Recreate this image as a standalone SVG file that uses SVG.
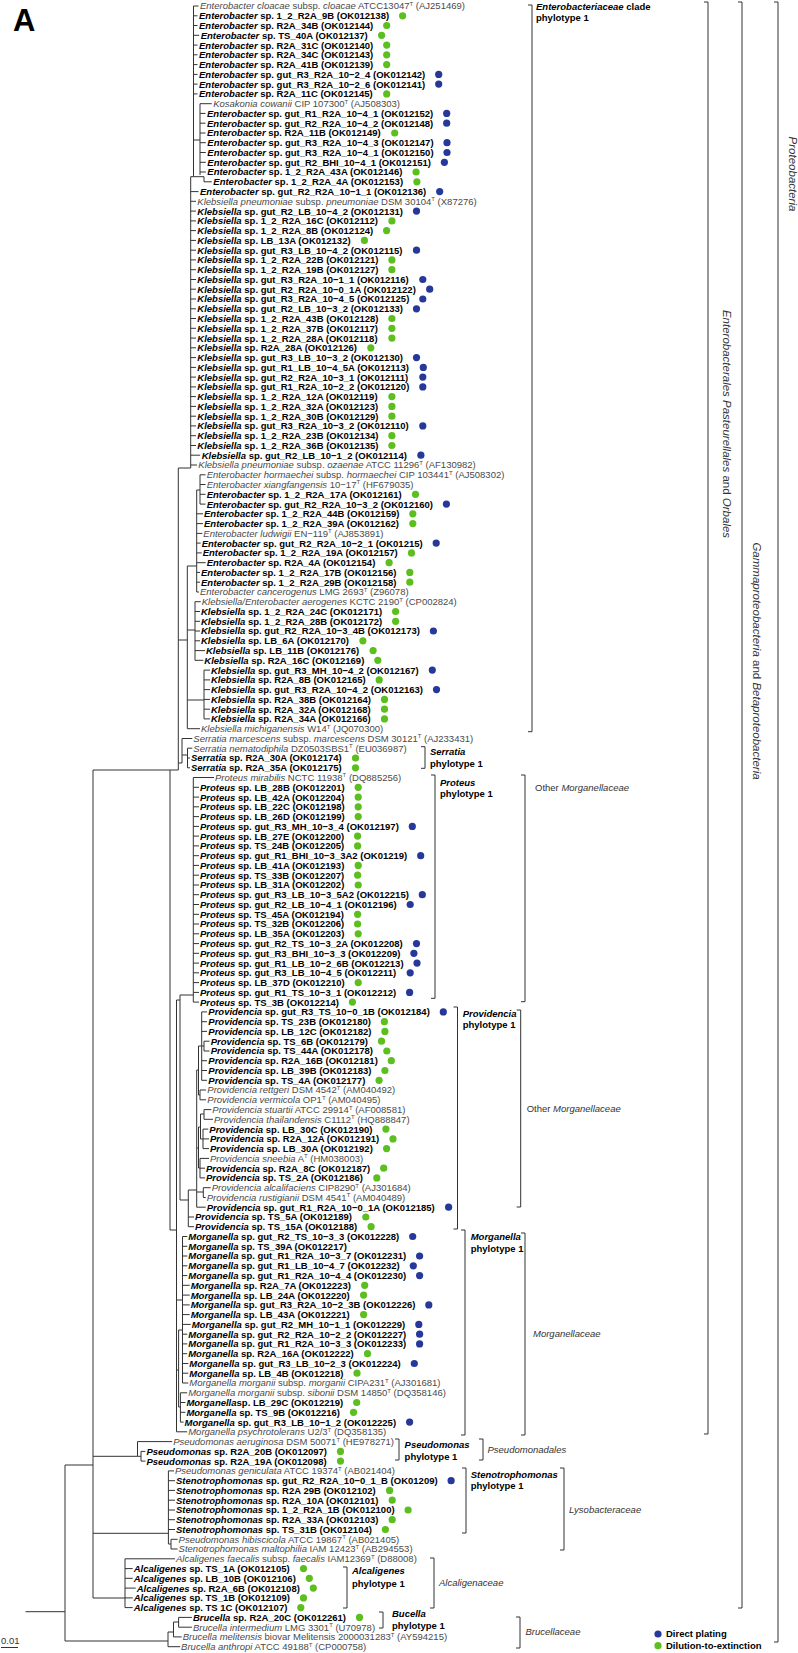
<svg xmlns="http://www.w3.org/2000/svg" width="798" height="1653" viewBox="0 0 798 1653">
<style>
text{font-family:"Liberation Sans",Arial,sans-serif;font-size:9.5px}
.b{font-weight:bold;fill:#000}
.r{fill:#4a4a4a}
.i{font-style:italic}
.s{font-size:6px}
.g{fill:#5cbf1f}
.u{fill:#26399a}
.t{fill:none;stroke:#333;stroke-width:1}
.k{fill:none;stroke:#333;stroke-width:1}
.f{fill:#333;font-style:italic}
.o{fill:#333}
.v{fill:#333;font-style:italic;font-size:11.5px}
</style>
<rect width="798" height="1653" fill="#fff"/>
<text x="13" y="31" style="font-size:31px;font-weight:bold">A</text>
<g id="tree" class="t">
<path d="M193.5,6V176.7M193.5,6H198.5M193.5,15.8H197.5M193.5,25.5H197.5M193.5,35.3H199.2M193.5,45.1H197.5M193.5,54.8H197.5M193.5,64.6H197.5M193.5,74.4H197.5M193.5,84.1H197.5M193.5,93.9H197.5M193.5,140H200M200,103.7V175M200,103.7H211.7M200,113.4H205.5M200,123.2H205.5M200,133H205.5M200,142.7H205.8M200,152.5H205.8M200,162.3H205.8M200,172H205.8M190.7,176.7H204V181.8H211.8"/>
<path d="M190.7,176.7V468M190.7,191.6H198.5M190.7,201.3H196M190.7,211.1H196M190.7,220.9H196M190.7,230.6H196M190.7,240.4H196M190.7,250.2H196M190.7,259.9H196M190.7,269.7H196M190.7,279.5H196M190.7,289.2H196M190.7,299H196M190.7,308.8H196M190.7,318.5H196M190.7,328.3H196M190.7,338.1H196M190.7,347.8H196M190.7,357.6H196M190.7,367.4H196M190.7,377.1H196M190.7,386.9H196M190.7,396.6H196M190.7,406.4H196M190.7,416.2H196M190.7,425.9H196M190.7,435.7H196M190.7,445.5H196M190.7,455.2H200.2M190.7,465H197M178.3,468H190.7"/>
<path d="M178.3,468V770M178.3,640H187.3M187.3,566V728.7M187.3,566H196.7M196.7,490V592M196.7,490H200M200,474.8V504.1M200,474.8H205.5M200,484.5H205.5M200,494.3H205.5M200,504.1H205.5M196.7,513.8H203M196.7,523.6H203M196.7,533.4H202.3M196.7,543.1H200.7M196.7,552.9H201.7M196.7,562.7H205.7M196.7,572.4H200M196.7,582.2H200M196.7,592H199M187.3,630H195M195,601.7V660.3M195,601.7H200.7M195,611.5H200M195,621.3H200M195,631H200M195,640.8H200M195,650.6H205M195,660.3H203.3M187.3,700H204M204,670.1V718.9M204,670.1H210M204,679.9H210M204,689.6H210M204,699.4H210M204,709.2H210M204,718.9H210M187.3,728.7H200"/>
<path d="M178.3,763H182M182,738.5V763M182,738.5H192.3M182,755H187.5M187.5,748.2V767.8M187.5,748.2H192.3M187.5,758H190M187.5,767.8H190"/>
<path d="M93,770H178.3M93,770V1598M170,770V1230M170,1230H176.5M176.5,1000V1431.8M176.5,1000H180M180,995V1200M180,995H193.3M193.3,777.5V1002.1M193.3,777.5H214M193.3,787.3H199M193.3,797.1H199M193.3,806.8H199M193.3,816.6H199M193.3,826.4H199M193.3,836.1H199M193.3,845.9H199M193.3,855.7H199M193.3,865.4H199M193.3,875.2H199M193.3,885H199M193.3,894.7H199M193.3,904.5H199M193.3,914.3H199M193.3,924H199M193.3,933.8H199M193.3,943.6H199M193.3,953.3H199M193.3,963.1H199M193.3,972.8H199M193.3,982.6H199M193.3,992.4H199M193.3,1002.1H199"/>
<path d="M180,1200H188.3M188.3,1190V1226.7M188.3,1217H194M188.3,1226.7H194M188.3,1190H196.7M196.7,1070V1207.2M196.7,1070H198.5M198.5,1046V1095M198.5,1046H201.7M201.7,1011.9V1080.3M201.7,1011.9H207M201.7,1021.7H207M201.7,1031.4H207M201.7,1060.7H207M201.7,1070.5H207M201.7,1080.3H207M201.7,1046H204M204,1041.2V1051M204,1041.2H209.5M204,1051H209.5M198.5,1095H200M200,1090V1099.8M200,1090H206M200,1099.8H206M196.7,1148H198.5M198.5,1127V1168M198.5,1127H200.5M200.5,1114V1139M200.5,1114H204M204,1109.6V1119.3M204,1109.6H211.3M204,1119.3H213M200.5,1139H203M203,1129.1V1148.6M203,1129.1H208.3M203,1138.9H209M203,1148.6H209M198.5,1168H200M200,1158.4V1177.9M200,1158.4H209M200,1168.2H205M200,1177.9H205M196.7,1192H203.3M203.3,1187.7V1197.5M203.3,1187.7H210.7M203.3,1197.5H205.7M196.7,1207.2H205.7"/>
<path d="M176.5,1300H182.5M182.5,1236.5V1383M182.5,1236.5H187.3M182.5,1246.3H187.3M182.5,1256H187.3M182.5,1265.8H187.3M182.5,1275.6H187.3M182.5,1285.3H189.7M182.5,1295.1H189.7M182.5,1304.9H189.7M182.5,1314.6H189.7M182.5,1324.4H190.7M182.5,1334.2H187.3M182.5,1343.9H187.3M182.5,1353.7H187.2M182.5,1363.5H188.3M182.5,1373.2H188.3M182.5,1383H188.3M176.5,1370H178.6M178.6,1330V1407M178.6,1330H182.5M178.6,1407H180.4M180.4,1392.8V1422.1M180.4,1392.8H187.2M180.4,1402.5H185.4M180.4,1412.3H185.4M180.4,1422.1H183.6M176.5,1431.8H187.2"/>
<path d="M93,1456.3H137.5M137.5,1441.6V1456.3M137.5,1441.6H172.2M137.5,1456.3H141M141,1451.4V1461.1M141,1451.4H145.4M141,1461.1H145.4"/>
<path d="M93,1533.3H168.4M168.4,1470.9V1544M168.4,1470.9H174M168.4,1480.7H175M168.4,1490.4H175M168.4,1500.2H175M168.4,1510H175M168.4,1519.7H175M168.4,1529.5H175M168.4,1544H171M171,1539.3V1549M171,1539.3H177.6M171,1549H177.6"/>
<path d="M93,1598H125M125,1558.8V1607.6M125,1558.8H175M125,1568.6H132.7M125,1578.3H132.7M125,1588.1H135.7M125,1597.9H132.7M125,1607.6H132.7"/>
<path d="M65,1465V1641M65,1465H93M65,1641H168M25.5,1611.7H65M168,1632V1646.7M168,1646.7H180.1M168,1632H173.5M173.5,1622V1636.9M173.5,1636.9H181.7M173.5,1622H178.6M178.6,1617.4V1627.2M178.6,1617.4H191.9M178.6,1627.2H191.9"/>
</g>
<g id="scale"><path class="t" d="M1,1647.5H18"/><text x="1" y="1644" class="o">0.01</text></g>
<g id="brackets" class="k">
<path d="M528,5H532V731.7H528"/>
<path d="M421,746.7H425V768.3H421"/>
<path d="M431,775H435V998.3H431"/>
<path d="M521,775H525V1001.7H521"/>
<path d="M453.5,1007H457.5V1229H453.5"/>
<path d="M516.7,1010H520.7V1207H516.7"/>
<path d="M461,1230H465V1435H461"/>
<path d="M521,1233H525V1435H521"/>
<path d="M395,1439H399V1460H395"/>
<path d="M479,1439H483V1460H479"/>
<path d="M462,1468H466V1533H462"/>
<path d="M560,1468H564V1550H560"/>
<path d="M343,1567H347V1608H343"/>
<path d="M430,1558H434V1608H430"/>
<path d="M379,1612H383V1628H379"/>
<path d="M516,1617H520V1648H516"/>
<path d="M704,2H708V1434H704"/>
<path d="M738,2H742V1608H738"/>
<path d="M774,2H778V1642H774"/>
</g>
<g id="labels">
<text class="b" x="536" y="9.9"><tspan class="i">Enterobacteriaceae</tspan> clade</text><text class="b" x="536" y="21.4">phylotype 1</text>
<text class="b" x="430" y="755.4"><tspan class="i">Serratia</tspan></text><text class="b" x="430" y="766.7">phylotype 1</text>
<text class="b" x="440" y="786.1"><tspan class="i">Proteus</tspan></text><text class="b" x="440" y="796.7">phylotype 1</text>
<text class="b" x="462.7" y="1016.7"><tspan class="i">Providencia</tspan></text><text class="b" x="462.7" y="1028.4">phylotype 1</text>
<text class="b" x="470.7" y="1240.1"><tspan class="i">Morganella</tspan></text><text class="b" x="470.7" y="1251.7">phylotype 1</text>
<text class="b" x="404.6" y="1447.7"><tspan class="i">Pseudomonas</tspan></text><text class="b" x="404.6" y="1460.1">phylotype 1</text>
<text class="b" x="470.7" y="1478.4"><tspan class="i">Stenotrophomonas</tspan></text><text class="b" x="470.7" y="1489.4">phylotype 1</text>
<text class="b" x="352" y="1574.4"><tspan class="i">Alcaligenes</tspan></text><text class="b" x="352" y="1586.7">phylotype 1</text>
<text class="b" x="392" y="1616.7"><tspan class="i">Bucella</tspan></text><text class="b" x="392" y="1629.1">phylotype 1</text>
<text class="o" x="535" y="791.1">Other <tspan class="i">Morganellaceae</tspan></text>
<text class="o" x="526.7" y="1111.7">Other <tspan class="i">Morganellaceae</tspan></text>
<text class="f" x="533" y="1337">Morganellaceae</text>
<text class="f" x="487.5" y="1453.4">Pseudomonadales</text>
<text class="f" x="569" y="1513.4">Lysobacteraceae</text>
<text class="f" x="439" y="1586.4">Alcaligenaceae</text>
<text class="f" x="525.5" y="1635.1">Brucellaceae</text>
<text class="v" transform="translate(723,424) rotate(90)" text-anchor="middle">Enterobacterales Pasteurellales <tspan font-style="normal">and</tspan> Orbales</text>
<text class="v" transform="translate(753,661) rotate(90)" text-anchor="middle">Gammaproteobacteria <tspan font-style="normal">and</tspan> Betaproteobacteria</text>
<text class="v" transform="translate(788.5,174) rotate(90)" text-anchor="middle">Proteobacteria</text>
</g>
<g id="legend">
<circle class="u" cx="658" cy="1634" r="3.6"/><text class="b" x="666" y="1637.4">Direct plating</text>
<circle class="g" cx="658" cy="1645.7" r="3.6"/><text class="b" x="666" y="1649.1">Dilution-to-extinction</text>
</g>
<g id="leaves">
<g id="leaf-001"><text class="r" x="200" y="9.4"><tspan class="i">Enterobacter cloacae</tspan> subsp. <tspan class="i">cloacae</tspan> ATCC13047<tspan class="s" dy="-3.5">T</tspan><tspan dy="3.5"> (AJ251469)</tspan></text></g>
<g id="leaf-002"><text class="b" x="199" y="19.2"><tspan class="i">Enterobacter</tspan> sp. 1_2_R2A_9B (OK012138)</text><circle class="g" cx="402.6" cy="15.8" r="3.6"/></g>
<g id="leaf-003"><text class="b" x="199" y="28.9"><tspan class="i">Enterobacter</tspan> sp. R2A_34B (OK012144)</text><circle class="g" cx="386.7" cy="25.5" r="3.6"/></g>
<g id="leaf-004"><text class="b" x="200.7" y="38.7"><tspan class="i">Enterobacter</tspan> sp. TS_40A (OK012137)</text><circle class="g" cx="381.6" cy="35.3" r="3.6"/></g>
<g id="leaf-005"><text class="b" x="199" y="48.5"><tspan class="i">Enterobacter</tspan> sp. R2A_31C (OK012140)</text><circle class="g" cx="386.7" cy="45.1" r="3.6"/></g>
<g id="leaf-006"><text class="b" x="199" y="58.2"><tspan class="i">Enterobacter</tspan> sp. R2A_34C (OK012143)</text><circle class="g" cx="386.7" cy="54.8" r="3.6"/></g>
<g id="leaf-007"><text class="b" x="199" y="68"><tspan class="i">Enterobacter</tspan> sp. R2A_41B (OK012139)</text><circle class="g" cx="386.7" cy="64.6" r="3.6"/></g>
<g id="leaf-008"><text class="b" x="199" y="77.8"><tspan class="i">Enterobacter</tspan> sp. gut_R3_R2A_10−2_4 (OK012142)</text><circle class="u" cx="438.7" cy="74.4" r="3.6"/></g>
<g id="leaf-009"><text class="b" x="199" y="87.5"><tspan class="i">Enterobacter</tspan> sp. gut_R3_R2A_10−2_6 (OK012141)</text><circle class="u" cx="438.7" cy="84.1" r="3.6"/></g>
<g id="leaf-010"><text class="b" x="199" y="97.3"><tspan class="i">Enterobacter</tspan> sp. R2A_11C (OK012145)</text><circle class="g" cx="386.7" cy="93.9" r="3.6"/></g>
<g id="leaf-011"><text class="r" x="213.2" y="107.1"><tspan class="i">Kosakonia cowanii</tspan> CIP 107300<tspan class="s" dy="-3.5">T</tspan><tspan dy="3.5"> (AJ508303)</tspan></text></g>
<g id="leaf-012"><text class="b" x="207" y="116.8"><tspan class="i">Enterobacter</tspan> sp. gut_R1_R2A_10−4_1 (OK012152)</text><circle class="u" cx="446.7" cy="113.4" r="3.6"/></g>
<g id="leaf-013"><text class="b" x="207" y="126.6"><tspan class="i">Enterobacter</tspan> sp. gut_R2_R2A_10−4_2 (OK012148)</text><circle class="u" cx="446.7" cy="123.2" r="3.6"/></g>
<g id="leaf-014"><text class="b" x="207" y="136.4"><tspan class="i">Enterobacter</tspan> sp. R2A_11B (OK012149)</text><circle class="g" cx="394.7" cy="133" r="3.6"/></g>
<g id="leaf-015"><text class="b" x="207.3" y="146.1"><tspan class="i">Enterobacter</tspan> sp. gut_R3_R2A_10−4_3 (OK012147)</text><circle class="u" cx="447" cy="142.7" r="3.6"/></g>
<g id="leaf-016"><text class="b" x="207.3" y="155.9"><tspan class="i">Enterobacter</tspan> sp. gut_R3_R2A_10−4_1 (OK012150)</text><circle class="u" cx="447" cy="152.5" r="3.6"/></g>
<g id="leaf-017"><text class="b" x="207.3" y="165.7"><tspan class="i">Enterobacter</tspan> sp. gut_R2_BHI_10−4_1 (OK012151)</text><circle class="u" cx="444.4" cy="162.3" r="3.6"/></g>
<g id="leaf-018"><text class="b" x="207.3" y="175.4"><tspan class="i">Enterobacter</tspan> sp. 1_2_R2A_43A (OK012146)</text><circle class="g" cx="416.1" cy="172" r="3.6"/></g>
<g id="leaf-019"><text class="b" x="213.3" y="185.2"><tspan class="i">Enterobacter</tspan> sp. 1_2_R2A_4A (OK012153)</text><circle class="g" cx="416.9" cy="181.8" r="3.6"/></g>
<g id="leaf-020"><text class="b" x="200" y="195"><tspan class="i">Enterobacter</tspan> sp. gut_R2_R2A_10−1_1 (OK012136)</text><circle class="u" cx="439.7" cy="191.6" r="3.6"/></g>
<g id="leaf-021"><text class="r" x="197.3" y="204.7"><tspan class="i">Klebsiella pneumoniae</tspan> subsp. <tspan class="i">pneumoniae</tspan> DSM 30104<tspan class="s" dy="-3.5">T</tspan><tspan dy="3.5"> (X87276)</tspan></text></g>
<g id="leaf-022"><text class="b" x="197.3" y="214.5"><tspan class="i">Klebsiella</tspan> sp. gut_R2_LB_10−4_2 (OK012131)</text><circle class="u" cx="416.5" cy="211.1" r="3.6"/></g>
<g id="leaf-023"><text class="b" x="197.3" y="224.3"><tspan class="i">Klebsiella</tspan> sp. 1_2_R2A_16C (OK012112)</text><circle class="g" cx="391.9" cy="220.9" r="3.6"/></g>
<g id="leaf-024"><text class="b" x="197.3" y="234"><tspan class="i">Klebsiella</tspan> sp. 1_2_R2A_8B (OK012124)</text><circle class="g" cx="386.6" cy="230.6" r="3.6"/></g>
<g id="leaf-025"><text class="b" x="197.3" y="243.8"><tspan class="i">Klebsiella</tspan> sp. LB_13A (OK012132)</text><circle class="g" cx="364.4" cy="240.4" r="3.6"/></g>
<g id="leaf-026"><text class="b" x="197.3" y="253.6"><tspan class="i">Klebsiella</tspan> sp. gut_R3_LB_10−4_2 (OK012115)</text><circle class="u" cx="416.5" cy="250.2" r="3.6"/></g>
<g id="leaf-027"><text class="b" x="197.3" y="263.3"><tspan class="i">Klebsiella</tspan> sp. 1_2_R2A_22B (OK012121)</text><circle class="g" cx="391.9" cy="259.9" r="3.6"/></g>
<g id="leaf-028"><text class="b" x="197.3" y="273.1"><tspan class="i">Klebsiella</tspan> sp. 1_2_R2A_19B (OK012127)</text><circle class="g" cx="391.9" cy="269.7" r="3.6"/></g>
<g id="leaf-029"><text class="b" x="197.3" y="282.9"><tspan class="i">Klebsiella</tspan> sp. gut_R3_R2A_10−1_1 (OK012116)</text><circle class="u" cx="422.8" cy="279.5" r="3.6"/></g>
<g id="leaf-030"><text class="b" x="197.3" y="292.6"><tspan class="i">Klebsiella</tspan> sp. gut_R2_R2A_10−0_1A (OK012122)</text><circle class="u" cx="429.7" cy="289.2" r="3.6"/></g>
<g id="leaf-031"><text class="b" x="197.3" y="302.4"><tspan class="i">Klebsiella</tspan> sp. gut_R3_R2A_10−4_5 (OK012125)</text><circle class="u" cx="422.8" cy="299" r="3.6"/></g>
<g id="leaf-032"><text class="b" x="197.3" y="312.2"><tspan class="i">Klebsiella</tspan> sp. gut_R2_LB_10−3_2 (OK012133)</text><circle class="u" cx="416.5" cy="308.8" r="3.6"/></g>
<g id="leaf-033"><text class="b" x="197.3" y="321.9"><tspan class="i">Klebsiella</tspan> sp. 1_2_R2A_43B (OK012128)</text><circle class="g" cx="391.9" cy="318.5" r="3.6"/></g>
<g id="leaf-034"><text class="b" x="197.3" y="331.7"><tspan class="i">Klebsiella</tspan> sp. 1_2_R2A_37B (OK012117)</text><circle class="g" cx="391.9" cy="328.3" r="3.6"/></g>
<g id="leaf-035"><text class="b" x="197.3" y="341.5"><tspan class="i">Klebsiella</tspan> sp. 1_2_R2A_28A (OK012118)</text><circle class="g" cx="391.9" cy="338.1" r="3.6"/></g>
<g id="leaf-036"><text class="b" x="197.3" y="351.2"><tspan class="i">Klebsiella</tspan> sp. R2A_28A (OK012126)</text><circle class="g" cx="370.8" cy="347.8" r="3.6"/></g>
<g id="leaf-037"><text class="b" x="197.3" y="361"><tspan class="i">Klebsiella</tspan> sp. gut_R3_LB_10−3_2 (OK012130)</text><circle class="u" cx="416.5" cy="357.6" r="3.6"/></g>
<g id="leaf-038"><text class="b" x="197.3" y="370.8"><tspan class="i">Klebsiella</tspan> sp. gut_R1_LB_10−4_5A (OK012113)</text><circle class="u" cx="423.3" cy="367.4" r="3.6"/></g>
<g id="leaf-039"><text class="b" x="197.3" y="380.5"><tspan class="i">Klebsiella</tspan> sp. gut_R2_R2A_10−3_1 (OK012111)</text><circle class="u" cx="422.8" cy="377.1" r="3.6"/></g>
<g id="leaf-040"><text class="b" x="197.3" y="390.3"><tspan class="i">Klebsiella</tspan> sp. gut_R1_R2A_10−2_2 (OK012120)</text><circle class="u" cx="422.8" cy="386.9" r="3.6"/></g>
<g id="leaf-041"><text class="b" x="197.3" y="400"><tspan class="i">Klebsiella</tspan> sp. 1_2_R2A_12A (OK012119)</text><circle class="g" cx="391.9" cy="396.6" r="3.6"/></g>
<g id="leaf-042"><text class="b" x="197.3" y="409.8"><tspan class="i">Klebsiella</tspan> sp. 1_2_R2A_32A (OK012123)</text><circle class="g" cx="391.9" cy="406.4" r="3.6"/></g>
<g id="leaf-043"><text class="b" x="197.3" y="419.6"><tspan class="i">Klebsiella</tspan> sp. 1_2_R2A_30B (OK012129)</text><circle class="g" cx="391.9" cy="416.2" r="3.6"/></g>
<g id="leaf-044"><text class="b" x="197.3" y="429.3"><tspan class="i">Klebsiella</tspan> sp. gut_R3_R2A_10−3_2 (OK012110)</text><circle class="u" cx="422.8" cy="425.9" r="3.6"/></g>
<g id="leaf-045"><text class="b" x="197.3" y="439.1"><tspan class="i">Klebsiella</tspan> sp. 1_2_R2A_23B (OK012134)</text><circle class="g" cx="391.9" cy="435.7" r="3.6"/></g>
<g id="leaf-046"><text class="b" x="197.3" y="448.9"><tspan class="i">Klebsiella</tspan> sp. 1_2_R2A_36B (OK012135)</text><circle class="g" cx="391.9" cy="445.5" r="3.6"/></g>
<g id="leaf-047"><text class="b" x="201.7" y="458.6"><tspan class="i">Klebsiella</tspan> sp. gut_R2_LB_10−1_2 (OK012114)</text><circle class="u" cx="420.9" cy="455.2" r="3.6"/></g>
<g id="leaf-048"><text class="r" x="198.3" y="468.4"><tspan class="i">Klebsiella pneumoniae</tspan> subsp. <tspan class="i">ozaenae</tspan> ATCC 11296<tspan class="s" dy="-3.5">T</tspan><tspan dy="3.5"> (AF130982)</tspan></text></g>
<g id="leaf-049"><text class="r" x="206.7" y="478.2"><tspan class="i">Enterobacter hormaechei</tspan> subsp. <tspan class="i">hormaechei</tspan> CIP 103441<tspan class="s" dy="-3.5">T</tspan><tspan dy="3.5"> (AJ508302)</tspan></text></g>
<g id="leaf-050"><text class="r" x="206.7" y="487.9"><tspan class="i">Enterobacter xiangfangensis</tspan> 10−17<tspan class="s" dy="-3.5">T</tspan><tspan dy="3.5"> (HF679035)</tspan></text></g>
<g id="leaf-051"><text class="b" x="206.7" y="497.7"><tspan class="i">Enterobacter</tspan> sp. 1_2_R2A_17A (OK012161)</text><circle class="g" cx="415.5" cy="494.3" r="3.6"/></g>
<g id="leaf-052"><text class="b" x="206.7" y="507.5"><tspan class="i">Enterobacter</tspan> sp. gut_R2_R2A_10−3_2 (OK012160)</text><circle class="u" cx="446.4" cy="504.1" r="3.6"/></g>
<g id="leaf-053"><text class="b" x="204" y="517.2"><tspan class="i">Enterobacter</tspan> sp. 1_2_R2A_44B (OK012159)</text><circle class="g" cx="412.8" cy="513.8" r="3.6"/></g>
<g id="leaf-054"><text class="b" x="204" y="527"><tspan class="i">Enterobacter</tspan> sp. 1_2_R2A_39A (OK012162)</text><circle class="g" cx="412.8" cy="523.6" r="3.6"/></g>
<g id="leaf-055"><text class="r" x="203.3" y="536.8"><tspan class="i">Enterobacter ludwigii</tspan> EN−119<tspan class="s" dy="-3.5">T</tspan><tspan dy="3.5"> (AJ853891)</tspan></text></g>
<g id="leaf-056"><text class="b" x="201.7" y="546.5"><tspan class="i">Enterobacter</tspan> sp. gut_R2_R2A_10−2_1 (OK01215)</text><circle class="u" cx="436.2" cy="543.1" r="3.6"/></g>
<g id="leaf-057"><text class="b" x="202.7" y="556.3"><tspan class="i">Enterobacter</tspan> sp. 1_2_R2A_19A (OK012157)</text><circle class="g" cx="411.5" cy="552.9" r="3.6"/></g>
<g id="leaf-058"><text class="b" x="206.7" y="566.1"><tspan class="i">Enterobacter</tspan> sp. R2A_4A (OK012154)</text><circle class="g" cx="389.1" cy="562.7" r="3.6"/></g>
<g id="leaf-059"><text class="b" x="201" y="575.8"><tspan class="i">Enterobacter</tspan> sp. 1_2_R2A_17B (OK012156)</text><circle class="g" cx="409.8" cy="572.4" r="3.6"/></g>
<g id="leaf-060"><text class="b" x="201" y="585.6"><tspan class="i">Enterobacter</tspan> sp. 1_2_R2A_29B (OK012158)</text><circle class="g" cx="409.8" cy="582.2" r="3.6"/></g>
<g id="leaf-061"><text class="r" x="200" y="595.4"><tspan class="i">Enterobacter cancerogenus</tspan> LMG 2693<tspan class="s" dy="-3.5">T</tspan><tspan dy="3.5"> (Z96078)</tspan></text></g>
<g id="leaf-062"><text class="r" x="201.7" y="605.1"><tspan class="i">Klebsiella/Enterobacter aerogenes</tspan> KCTC 2190<tspan class="s" dy="-3.5">T</tspan><tspan dy="3.5"> (CP002824)</tspan></text></g>
<g id="leaf-063"><text class="b" x="201" y="614.9"><tspan class="i">Klebsiella</tspan> sp. 1_2_R2A_24C (OK012171)</text><circle class="g" cx="395.6" cy="611.5" r="3.6"/></g>
<g id="leaf-064"><text class="b" x="201" y="624.7"><tspan class="i">Klebsiella</tspan> sp. 1_2_R2A_28B (OK012172)</text><circle class="g" cx="395.6" cy="621.3" r="3.6"/></g>
<g id="leaf-065"><text class="b" x="201" y="634.4"><tspan class="i">Klebsiella</tspan> sp. gut_R2_R2A_10−3_4B (OK012173)</text><circle class="u" cx="433.4" cy="631" r="3.6"/></g>
<g id="leaf-066"><text class="b" x="201" y="644.2"><tspan class="i">Klebsiella</tspan> sp. LB_6A (OK012170)</text><circle class="g" cx="362.9" cy="640.8" r="3.6"/></g>
<g id="leaf-067"><text class="b" x="206" y="654"><tspan class="i">Klebsiella</tspan> sp. LB_11B (OK012176)</text><circle class="g" cx="373.1" cy="650.6" r="3.6"/></g>
<g id="leaf-068"><text class="b" x="204.3" y="663.7"><tspan class="i">Klebsiella</tspan> sp. R2A_16C (OK012169)</text><circle class="g" cx="377.8" cy="660.3" r="3.6"/></g>
<g id="leaf-069"><text class="b" x="211" y="673.5"><tspan class="i">Klebsiella</tspan> sp. gut_R3_MH_10−4_2 (OK012167)</text><circle class="u" cx="432.3" cy="670.1" r="3.6"/></g>
<g id="leaf-070"><text class="b" x="211" y="683.3"><tspan class="i">Klebsiella</tspan> sp. R2A_8B (OK012165)</text><circle class="g" cx="379.2" cy="679.9" r="3.6"/></g>
<g id="leaf-071"><text class="b" x="211" y="693"><tspan class="i">Klebsiella</tspan> sp. gut_R3_R2A_10−4_2 (OK012163)</text><circle class="u" cx="436.5" cy="689.6" r="3.6"/></g>
<g id="leaf-072"><text class="b" x="211" y="702.8"><tspan class="i">Klebsiella</tspan> sp. R2A_38B (OK012164)</text><circle class="g" cx="384.5" cy="699.4" r="3.6"/></g>
<g id="leaf-073"><text class="b" x="211" y="712.6"><tspan class="i">Klebsiella</tspan> sp. R2A_32A (OK012168)</text><circle class="g" cx="384.5" cy="709.2" r="3.6"/></g>
<g id="leaf-074"><text class="b" x="211" y="722.3"><tspan class="i">Klebsiella</tspan> sp. R2A_34A (OK012166)</text><circle class="g" cx="384.5" cy="718.9" r="3.6"/></g>
<g id="leaf-075"><text class="r" x="201" y="732.1"><tspan class="i">Klebsiella michiganensis</tspan> W14<tspan class="s" dy="-3.5">T</tspan><tspan dy="3.5"> (JQ070300)</tspan></text></g>
<g id="leaf-076"><text class="r" x="193.3" y="741.9"><tspan class="i">Serratia marcescens</tspan> subsp. <tspan class="i">marcescens</tspan> DSM 30121<tspan class="s" dy="-3.5">T</tspan><tspan dy="3.5"> (AJ233431)</tspan></text></g>
<g id="leaf-077"><text class="r" x="193.3" y="751.6"><tspan class="i">Serratia nematodiphila</tspan> DZ0503SBS1<tspan class="s" dy="-3.5">T</tspan><tspan dy="3.5"> (EU036987)</tspan></text></g>
<g id="leaf-078"><text class="b" x="191" y="761.4"><tspan class="i">Serratia</tspan> sp. R2A_30A (OK012174)</text><circle class="g" cx="355.5" cy="758" r="3.6"/></g>
<g id="leaf-079"><text class="b" x="191" y="771.2"><tspan class="i">Serratia</tspan> sp. R2A_35A (OK012175)</text><circle class="g" cx="355.5" cy="767.8" r="3.6"/></g>
<g id="leaf-080"><text class="r" x="215" y="780.9"><tspan class="i">Proteus mirabilis</tspan> NCTC 11938<tspan class="s" dy="-3.5">T</tspan><tspan dy="3.5"> (DQ885256)</tspan></text></g>
<g id="leaf-081"><text class="b" x="200" y="790.7"><tspan class="i">Proteus</tspan> sp. LB_28B (OK012201)</text><circle class="g" cx="358.2" cy="787.3" r="3.6"/></g>
<g id="leaf-082"><text class="b" x="200" y="800.5"><tspan class="i">Proteus</tspan> sp. LB_42A (OK012204)</text><circle class="g" cx="358.2" cy="797.1" r="3.6"/></g>
<g id="leaf-083"><text class="b" x="200" y="810.2"><tspan class="i">Proteus</tspan> sp. LB_22C (OK012198)</text><circle class="g" cx="358.2" cy="806.8" r="3.6"/></g>
<g id="leaf-084"><text class="b" x="200" y="820"><tspan class="i">Proteus</tspan> sp. LB_26D (OK012199)</text><circle class="g" cx="358.2" cy="816.6" r="3.6"/></g>
<g id="leaf-085"><text class="b" x="200" y="829.8"><tspan class="i">Proteus</tspan> sp. gut_R3_MH_10−3_4 (OK012197)</text><circle class="u" cx="412.3" cy="826.4" r="3.6"/></g>
<g id="leaf-086"><text class="b" x="200" y="839.5"><tspan class="i">Proteus</tspan> sp. LB_27E (OK012200)</text><circle class="g" cx="357.6" cy="836.1" r="3.6"/></g>
<g id="leaf-087"><text class="b" x="200" y="849.3"><tspan class="i">Proteus</tspan> sp. TS_24B (OK012205)</text><circle class="g" cx="357.6" cy="845.9" r="3.6"/></g>
<g id="leaf-088"><text class="b" x="200" y="859.1"><tspan class="i">Proteus</tspan> sp. gut_R1_BHI_10−3_3A2 (OK01219)</text><circle class="u" cx="420.7" cy="855.7" r="3.6"/></g>
<g id="leaf-089"><text class="b" x="200" y="868.8"><tspan class="i">Proteus</tspan> sp. LB_41A (OK012193)</text><circle class="g" cx="358.2" cy="865.4" r="3.6"/></g>
<g id="leaf-090"><text class="b" x="200" y="878.6"><tspan class="i">Proteus</tspan> sp. TS_33B (OK012207)</text><circle class="g" cx="357.6" cy="875.2" r="3.6"/></g>
<g id="leaf-091"><text class="b" x="200" y="888.4"><tspan class="i">Proteus</tspan> sp. LB_31A (OK012202)</text><circle class="g" cx="358.2" cy="885" r="3.6"/></g>
<g id="leaf-092"><text class="b" x="200" y="898.1"><tspan class="i">Proteus</tspan> sp. gut_R3_LB_10−3_5A2 (OK012215)</text><circle class="u" cx="422.3" cy="894.7" r="3.6"/></g>
<g id="leaf-093"><text class="b" x="200" y="907.9"><tspan class="i">Proteus</tspan> sp. gut_R2_LB_10−4_1 (OK012196)</text><circle class="u" cx="410.2" cy="904.5" r="3.6"/></g>
<g id="leaf-094"><text class="b" x="200" y="917.7"><tspan class="i">Proteus</tspan> sp. TS_45A (OK012194)</text><circle class="g" cx="357.6" cy="914.3" r="3.6"/></g>
<g id="leaf-095"><text class="b" x="200" y="927.4"><tspan class="i">Proteus</tspan> sp. TS_32B (OK012206)</text><circle class="g" cx="357.6" cy="924" r="3.6"/></g>
<g id="leaf-096"><text class="b" x="200" y="937.2"><tspan class="i">Proteus</tspan> sp. LB_35A (OK012203)</text><circle class="g" cx="358.2" cy="933.8" r="3.6"/></g>
<g id="leaf-097"><text class="b" x="200" y="947"><tspan class="i">Proteus</tspan> sp. gut_R2_TS_10−3_2A (OK012208)</text><circle class="u" cx="416.5" cy="943.6" r="3.6"/></g>
<g id="leaf-098"><text class="b" x="200" y="956.7"><tspan class="i">Proteus</tspan> sp. gut_R3_BHI_10−3_3 (OK012209)</text><circle class="u" cx="413.9" cy="953.3" r="3.6"/></g>
<g id="leaf-099"><text class="b" x="200" y="966.5"><tspan class="i">Proteus</tspan> sp. gut_R1_LB_10−2_6B (OK012213)</text><circle class="u" cx="417" cy="963.1" r="3.6"/></g>
<g id="leaf-100"><text class="b" x="200" y="976.2"><tspan class="i">Proteus</tspan> sp. gut_R3_LB_10−4_5 (OK012211)</text><circle class="u" cx="410.2" cy="972.8" r="3.6"/></g>
<g id="leaf-101"><text class="b" x="200" y="986"><tspan class="i">Proteus</tspan> sp. LB_37D (OK012210)</text><circle class="g" cx="358.2" cy="982.6" r="3.6"/></g>
<g id="leaf-102"><text class="b" x="200" y="995.8"><tspan class="i">Proteus</tspan> sp. gut_R1_TS_10−3_1 (OK012212)</text><circle class="u" cx="409.6" cy="992.4" r="3.6"/></g>
<g id="leaf-103"><text class="b" x="200" y="1005.5"><tspan class="i">Proteus</tspan> sp. TS_3B (OK012214)</text><circle class="g" cx="352.4" cy="1002.1" r="3.6"/></g>
<g id="leaf-104"><text class="b" x="208.3" y="1015.3"><tspan class="i">Providencia</tspan> sp. gut_R3_TS_10−0_1B (OK012184)</text><circle class="u" cx="443.3" cy="1011.9" r="3.6"/></g>
<g id="leaf-105"><text class="b" x="208.3" y="1025.1"><tspan class="i">Providencia</tspan> sp. TS_23B (OK012180)</text><circle class="g" cx="384.4" cy="1021.7" r="3.6"/></g>
<g id="leaf-106"><text class="b" x="208.3" y="1034.8"><tspan class="i">Providencia</tspan> sp. LB_12C (OK012182)</text><circle class="g" cx="384.9" cy="1031.4" r="3.6"/></g>
<g id="leaf-107"><text class="b" x="210.7" y="1044.6"><tspan class="i">Providencia</tspan> sp. TS_6B (OK012179)</text><circle class="g" cx="381.5" cy="1041.2" r="3.6"/></g>
<g id="leaf-108"><text class="b" x="210.7" y="1054.4"><tspan class="i">Providencia</tspan> sp. TS_44A (OK012178)</text><circle class="g" cx="386.8" cy="1051" r="3.6"/></g>
<g id="leaf-109"><text class="b" x="208.3" y="1064.1"><tspan class="i">Providencia</tspan> sp. R2A_16B (OK012181)</text><circle class="g" cx="391.3" cy="1060.7" r="3.6"/></g>
<g id="leaf-110"><text class="b" x="208.3" y="1073.9"><tspan class="i">Providencia</tspan> sp. LB_39B (OK012183)</text><circle class="g" cx="384.9" cy="1070.5" r="3.6"/></g>
<g id="leaf-111"><text class="b" x="208.3" y="1083.7"><tspan class="i">Providencia</tspan> sp. TS_4A (OK012177)</text><circle class="g" cx="379.1" cy="1080.3" r="3.6"/></g>
<g id="leaf-112"><text class="r" x="207.3" y="1093.4"><tspan class="i">Providencia rettgeri</tspan> DSM 4542<tspan class="s" dy="-3.5">T</tspan><tspan dy="3.5"> (AM040492)</tspan></text></g>
<g id="leaf-113"><text class="r" x="207.3" y="1103.2"><tspan class="i">Providencia vermicola</tspan> OP1<tspan class="s" dy="-3.5">T</tspan><tspan dy="3.5"> (AM040495)</tspan></text></g>
<g id="leaf-114"><text class="r" x="212.3" y="1113"><tspan class="i">Providencia stuartii</tspan> ATCC 29914<tspan class="s" dy="-3.5">T</tspan><tspan dy="3.5"> (AF008581)</tspan></text></g>
<g id="leaf-115"><text class="r" x="214" y="1122.7"><tspan class="i">Providencia thailandensis</tspan> C1112<tspan class="s" dy="-3.5">T</tspan><tspan dy="3.5"> (HQ888847)</tspan></text></g>
<g id="leaf-116"><text class="b" x="209.3" y="1132.5"><tspan class="i">Providencia</tspan> sp. LB_30C (OK012190)</text><circle class="g" cx="385.9" cy="1129.1" r="3.6"/></g>
<g id="leaf-117"><text class="b" x="210" y="1142.3"><tspan class="i">Providencia</tspan> sp. R2A_12A (OK012191)</text><circle class="g" cx="393" cy="1138.9" r="3.6"/></g>
<g id="leaf-118"><text class="b" x="210" y="1152"><tspan class="i">Providencia</tspan> sp. LB_30A (OK012192)</text><circle class="g" cx="386.6" cy="1148.6" r="3.6"/></g>
<g id="leaf-119"><text class="r" x="210" y="1161.8"><tspan class="i">Providencia sneebia</tspan> A<tspan class="s" dy="-3.5">T</tspan><tspan dy="3.5"> (HM038003)</tspan></text></g>
<g id="leaf-120"><text class="b" x="206" y="1171.6"><tspan class="i">Providencia</tspan> sp. R2A_8C (OK012187)</text><circle class="g" cx="383.7" cy="1168.2" r="3.6"/></g>
<g id="leaf-121"><text class="b" x="206" y="1181.3"><tspan class="i">Providencia</tspan> sp. TS_2A (OK012186)</text><circle class="g" cx="376.8" cy="1177.9" r="3.6"/></g>
<g id="leaf-122"><text class="r" x="211.7" y="1191.1"><tspan class="i">Providencia alcalifaciens</tspan> CIP8290<tspan class="s" dy="-3.5">T</tspan><tspan dy="3.5"> (AJ301684)</tspan></text></g>
<g id="leaf-123"><text class="r" x="206.7" y="1200.9"><tspan class="i">Providencia rustigianii</tspan> DSM 4541<tspan class="s" dy="-3.5">T</tspan><tspan dy="3.5"> (AM040489)</tspan></text></g>
<g id="leaf-124"><text class="b" x="206.7" y="1210.6"><tspan class="i">Providencia</tspan> sp. gut_R1_R2A_10−0_1A (OK012185)</text><circle class="u" cx="448.6" cy="1207.2" r="3.6"/></g>
<g id="leaf-125"><text class="b" x="195" y="1220.4"><tspan class="i">Providencia</tspan> sp. TS_5A (OK012189)</text><circle class="g" cx="365.8" cy="1217" r="3.6"/></g>
<g id="leaf-126"><text class="b" x="195" y="1230.1"><tspan class="i">Providencia</tspan> sp. TS_15A (OK012188)</text><circle class="g" cx="371.1" cy="1226.7" r="3.6"/></g>
<g id="leaf-127"><text class="b" x="188.3" y="1239.9"><tspan class="i">Morganella</tspan> sp. gut_R2_TS_10−3_3 (OK012228)</text><circle class="u" cx="412.7" cy="1236.5" r="3.6"/></g>
<g id="leaf-128"><text class="b" x="188.3" y="1249.7"><tspan class="i">Morganella</tspan> sp. TS_39A (OK012217)</text></g>
<g id="leaf-129"><text class="b" x="188.3" y="1259.4"><tspan class="i">Morganella</tspan> sp. gut_R1_R2A_10−3_7 (OK012231)</text><circle class="u" cx="419.6" cy="1256" r="3.6"/></g>
<g id="leaf-130"><text class="b" x="188.3" y="1269.2"><tspan class="i">Morganella</tspan> sp. gut_R1_LB_10−4_7 (OK012232)</text><circle class="u" cx="413.3" cy="1265.8" r="3.6"/></g>
<g id="leaf-131"><text class="b" x="188.3" y="1279"><tspan class="i">Morganella</tspan> sp. gut_R1_R2A_10−4_4 (OK012230)</text><circle class="u" cx="419.6" cy="1275.6" r="3.6"/></g>
<g id="leaf-132"><text class="b" x="190.7" y="1288.7"><tspan class="i">Morganella</tspan> sp. R2A_7A (OK012223)</text><circle class="g" cx="364.7" cy="1285.3" r="3.6"/></g>
<g id="leaf-133"><text class="b" x="190.7" y="1298.5"><tspan class="i">Morganella</tspan> sp. LB_24A (OK012220)</text><circle class="g" cx="363.6" cy="1295.1" r="3.6"/></g>
<g id="leaf-134"><text class="b" x="190.7" y="1308.3"><tspan class="i">Morganella</tspan> sp. gut_R3_R2A_10−2_3B (OK012226)</text><circle class="u" cx="428.8" cy="1304.9" r="3.6"/></g>
<g id="leaf-135"><text class="b" x="190.7" y="1318"><tspan class="i">Morganella</tspan> sp. LB_43A (OK012221)</text><circle class="g" cx="363.6" cy="1314.6" r="3.6"/></g>
<g id="leaf-136"><text class="b" x="191.7" y="1327.8"><tspan class="i">Morganella</tspan> sp. gut_R2_MH_10−1_1 (OK012229)</text><circle class="u" cx="418.8" cy="1324.4" r="3.6"/></g>
<g id="leaf-137"><text class="b" x="188.3" y="1337.6"><tspan class="i">Morganella</tspan> sp. gut_R2_R2A_10−2_2 (OK012227)</text><circle class="u" cx="419.6" cy="1334.2" r="3.6"/></g>
<g id="leaf-138"><text class="b" x="188.3" y="1347.3"><tspan class="i">Morganella</tspan> sp. gut_R1_R2A_10−3_3 (OK012233)</text><circle class="u" cx="419.6" cy="1343.9" r="3.6"/></g>
<g id="leaf-139"><text class="b" x="188.2" y="1357.1"><tspan class="i">Morganella</tspan> sp. R2A_16A (OK012222)</text><circle class="g" cx="367.5" cy="1353.7" r="3.6"/></g>
<g id="leaf-140"><text class="b" x="189.3" y="1366.9"><tspan class="i">Morganella</tspan> sp. gut_R3_LB_10−2_3 (OK012224)</text><circle class="u" cx="414.3" cy="1363.5" r="3.6"/></g>
<g id="leaf-141"><text class="b" x="189.3" y="1376.6"><tspan class="i">Morganella</tspan> sp. LB_4B (OK012218)</text><circle class="g" cx="357" cy="1373.2" r="3.6"/></g>
<g id="leaf-142"><text class="r" x="189.3" y="1386.4"><tspan class="i">Morganella morganii</tspan> subsp. <tspan class="i">morganii</tspan> CIPA231<tspan class="s" dy="-3.5">T</tspan><tspan dy="3.5"> (AJ301681)</tspan></text></g>
<g id="leaf-143"><text class="r" x="188.2" y="1396.2"><tspan class="i">Morganella morganii</tspan> subsp. <tspan class="i">sibonii</tspan> DSM 14850<tspan class="s" dy="-3.5">T</tspan><tspan dy="3.5"> (DQ358146)</tspan></text></g>
<g id="leaf-144"><text class="b" x="186.4" y="1405.9"><tspan class="i">Morganella</tspan>sp. LB_29C (OK012219)</text><circle class="g" cx="356.7" cy="1402.5" r="3.6"/></g>
<g id="leaf-145"><text class="b" x="186.4" y="1415.7"><tspan class="i">Morganella</tspan> sp. TS_9B (OK012216)</text><circle class="g" cx="353.5" cy="1412.3" r="3.6"/></g>
<g id="leaf-146"><text class="b" x="184.6" y="1425.5"><tspan class="i">Morganella</tspan> sp. gut_R3_LB_10−1_2 (OK012225)</text><circle class="u" cx="409.6" cy="1422.1" r="3.6"/></g>
<g id="leaf-147"><text class="r" x="188.2" y="1435.2"><tspan class="i">Morganella psychrotolerans</tspan> U2/3<tspan class="s" dy="-3.5">T</tspan><tspan dy="3.5"> (DQ358135)</tspan></text></g>
<g id="leaf-148"><text class="r" x="173.2" y="1445"><tspan class="i">Pseudomonas aeruginosa</tspan> DSM 50071<tspan class="s" dy="-3.5">T</tspan><tspan dy="3.5"> (HE978271)</tspan></text></g>
<g id="leaf-149"><text class="b" x="146.4" y="1454.8"><tspan class="i">Pseudomonas</tspan> sp. R2A_20B (OK012097)</text><circle class="g" cx="340.5" cy="1451.4" r="3.6"/></g>
<g id="leaf-150"><text class="b" x="146.4" y="1464.5"><tspan class="i">Pseudomonas</tspan> sp. R2A_19A (OK012098)</text><circle class="g" cx="340.5" cy="1461.1" r="3.6"/></g>
<g id="leaf-151"><text class="r" x="175" y="1474.3"><tspan class="i">Pseudomonas geniculata</tspan> ATCC 19374<tspan class="s" dy="-3.5">T</tspan><tspan dy="3.5"> (AB021404)</tspan></text></g>
<g id="leaf-152"><text class="b" x="176" y="1484.1"><tspan class="i">Stenotrophomonas</tspan> sp. gut_R2_R2A_10−0_1_B (OK01209)</text><circle class="u" cx="451.1" cy="1480.7" r="3.6"/></g>
<g id="leaf-153"><text class="b" x="176" y="1493.8"><tspan class="i">Stenotrophomonas</tspan> sp. R2A 29B (OK012102)</text><circle class="g" cx="389.6" cy="1490.4" r="3.6"/></g>
<g id="leaf-154"><text class="b" x="176" y="1503.6"><tspan class="i">Stenotrophomonas</tspan> sp. R2A_10A (OK012101)</text><circle class="g" cx="392.2" cy="1500.2" r="3.6"/></g>
<g id="leaf-155"><text class="b" x="176" y="1513.4"><tspan class="i">Stenotrophomonas</tspan> sp. 1_2_R2A_1B (OK012100)</text><circle class="g" cx="408.1" cy="1510" r="3.6"/></g>
<g id="leaf-156"><text class="b" x="176" y="1523.1"><tspan class="i">Stenotrophomonas</tspan> sp. R2A_33A (OK012103)</text><circle class="g" cx="392.2" cy="1519.7" r="3.6"/></g>
<g id="leaf-157"><text class="b" x="176" y="1532.9"><tspan class="i">Stenotrophomonas</tspan> sp. TS_31B (OK012104)</text><circle class="g" cx="385.4" cy="1529.5" r="3.6"/></g>
<g id="leaf-158"><text class="r" x="178.6" y="1542.7"><tspan class="i">Pseudomonas hibiscicola</tspan> ATCC 19867<tspan class="s" dy="-3.5">T</tspan><tspan dy="3.5"> (AB021405)</tspan></text></g>
<g id="leaf-159"><text class="r" x="178.6" y="1552.4"><tspan class="i">Stenotrophomonas maltophilia</tspan> IAM 12423<tspan class="s" dy="-3.5">T</tspan><tspan dy="3.5"> (AB294553)</tspan></text></g>
<g id="leaf-160"><text class="r" x="176" y="1562.2"><tspan class="i">Alcaligenes faecalis</tspan> subsp. <tspan class="i">faecalis</tspan> IAM12369<tspan class="s" dy="-3.5">T</tspan><tspan dy="3.5"> (D88008)</tspan></text></g>
<g id="leaf-161"><text class="b" x="133.7" y="1572"><tspan class="i">Alcaligenes</tspan> sp. TS_1A (OK012105)</text><circle class="g" cx="303.5" cy="1568.6" r="3.6"/></g>
<g id="leaf-162"><text class="b" x="133.7" y="1581.7"><tspan class="i">Alcaligenes</tspan> sp. LB_10B (OK012106)</text><circle class="g" cx="309.3" cy="1578.3" r="3.6"/></g>
<g id="leaf-163"><text class="b" x="136.7" y="1591.5"><tspan class="i">Alcaligenes</tspan> sp. R2A_6B (OK012108)</text><circle class="g" cx="313.3" cy="1588.1" r="3.6"/></g>
<g id="leaf-164"><text class="b" x="133.7" y="1601.3"><tspan class="i">Alcaligenes</tspan> sp. TS_1B (OK012109)</text><circle class="g" cx="303.5" cy="1597.9" r="3.6"/></g>
<g id="leaf-165"><text class="b" x="133.7" y="1611"><tspan class="i">Alcaligenes</tspan> sp. TS 1C (OK012107)</text><circle class="g" cx="300.8" cy="1607.6" r="3.6"/></g>
<g id="leaf-166"><text class="b" x="192.9" y="1620.8"><tspan class="i">Brucella</tspan> sp. R2A_20C (OK012261)</text><circle class="g" cx="359.5" cy="1617.4" r="3.6"/></g>
<g id="leaf-167"><text class="r" x="192.9" y="1630.6"><tspan class="i">Brucella intermedium</tspan> LMG 3301<tspan class="s" dy="-3.5">T</tspan><tspan dy="3.5"> (U70978)</tspan></text></g>
<g id="leaf-168"><text class="r" x="182.7" y="1640.3"><tspan class="i">Brucella melitensis</tspan> biovar Melitensis 2000031283<tspan class="s" dy="-3.5">T</tspan><tspan dy="3.5"> (AY594215)</tspan></text></g>
<g id="leaf-169"><text class="r" x="181.1" y="1650.1"><tspan class="i">Brucella anthropi</tspan> ATCC 49188<tspan class="s" dy="-3.5">T</tspan><tspan dy="3.5"> (CP000758)</tspan></text></g>
</g>
</svg>
